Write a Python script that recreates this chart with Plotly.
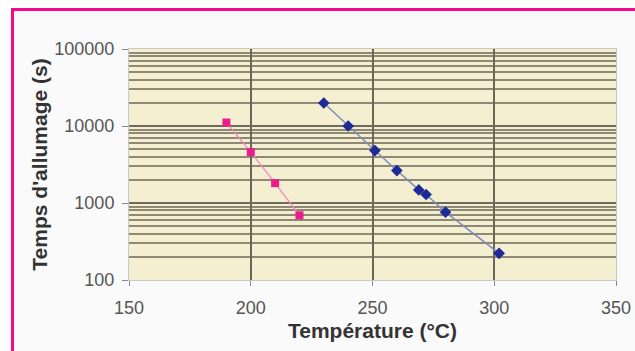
import plotly.graph_objects as go

# Data
pink_temp = [190, 200, 210, 220]
pink_time = [11100, 4580, 1810, 693]
blue_temp = [230, 240, 251, 260, 269, 272, 280, 302]
blue_time = [19900, 10000, 4800, 2640, 1480, 1290, 760, 222]

x_ticks = [150, 200, 250, 300, 350]
y_ticks = [100, 1000, 10000, 100000]
y_tick_text = ["100", "1000", "10000", "100000"]

x_title = "Température (°C)"
y_title = "Temps d'allumage (s)"

fig = go.Figure()
fig.add_trace(go.Scatter(
    x=pink_temp, y=pink_time, mode="lines+markers",
    line=dict(color="#F28CBE", width=1.3),
    marker=dict(symbol="square", size=8, color="#EC1C8C"),
    showlegend=False))
fig.add_trace(go.Scatter(
    x=blue_temp, y=blue_time, mode="lines+markers",
    line=dict(color="#7F8CB8", width=1.5),
    marker=dict(symbol="diamond", size=9, color="#1E2A96"),
    showlegend=False))

W, H = 635, 351
L, R, T, B = 129, 19, 49, 71
pw, ph = W - L - R, H - T - B

def px2x(p):
    return (p - L) / pw

def py2y(p):
    return (H - B - p) / ph

fig.update_layout(
    width=W, height=H,
    margin=dict(l=L, r=R, t=T, b=B, autoexpand=False),
    paper_bgcolor="#FAFAFA",
    plot_bgcolor="#F4EFD0",
    font=dict(family="Liberation Sans, Arial, sans-serif", color="#555555"),
    shapes=[
        dict(type="rect", xref="paper", yref="paper",
             x0=px2x(0), x1=px2x(11), y0=py2y(H), y1=py2y(0),
             fillcolor="white", line=dict(width=0), layer="below"),
        dict(type="rect", xref="paper", yref="paper",
             x0=px2x(0), x1=px2x(W), y0=py2y(8), y1=py2y(0),
             fillcolor="white", line=dict(width=0), layer="below"),
        dict(type="line", xref="paper", yref="paper",
             x0=px2x(12.5), x1=px2x(W), y0=py2y(9.5), y1=py2y(9.5),
             line=dict(color="#F5078E", width=3)),
        dict(type="line", xref="paper", yref="paper",
             x0=px2x(12.5), x1=px2x(12.5), y0=py2y(8), y1=py2y(H),
             line=dict(color="#F5078E", width=3)),
    ],
)

fig.update_xaxes(
    range=[150, 350], tickvals=x_ticks, automargin=False,
    showgrid=True, gridcolor="#6A6758", gridwidth=1.6,
    showline=True, linecolor="#C8C8C8", linewidth=1, mirror=True,
    ticks="outside", ticklen=5, tickcolor="#888888",
    tickfont=dict(size=18, color="#555555"),
    ticklabelstandoff=6,
    zeroline=False,
    title=dict(text="<b>" + x_title + "</b>",
               font=dict(size=21, color="#333333"), standoff=6),
)
fig.update_yaxes(
    type="log", range=[2, 5], tickvals=y_ticks, ticktext=y_tick_text,
    automargin=False,
    showgrid=True, gridcolor="#6E6B5C", gridwidth=1.5,
    minor=dict(dtick="D1", showgrid=True, gridcolor="#8E8975", gridwidth=1.5),
    showline=True, linecolor="#C8C8C8", linewidth=1, mirror=True,
    ticks="outside", ticklen=6, tickcolor="#888888",
    tickfont=dict(size=18, color="#555555"),
    ticklabelstandoff=4,
    zeroline=False,
    title=dict(text="<b>" + y_title + "</b>",
               font=dict(size=21, color="#333333"), standoff=0),
)

fig.write_html("out.html",
               config={"displayModeBar": False},
               post_script="document.body.style.margin='0px';document.body.style.background='#FAFAFA';")
